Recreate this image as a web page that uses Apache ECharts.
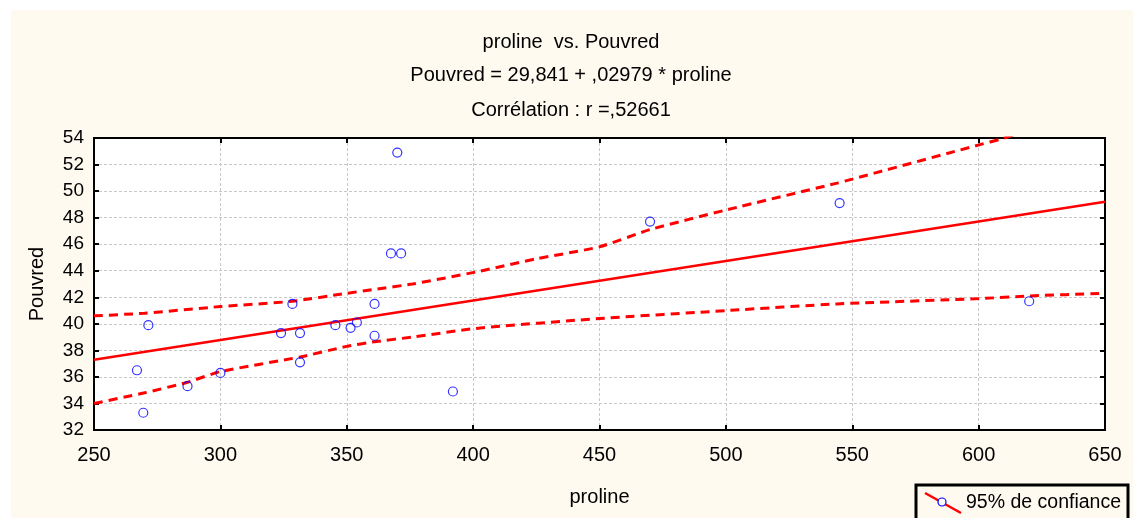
<!DOCTYPE html>
<html>
<head>
<meta charset="utf-8">
<script src="https://cdn.jsdelivr.net/npm/echarts@6/dist/echarts.min.js"></script>
<style>
html,body{margin:0;padding:0;background:#ffffff;}
#bg{position:absolute;left:11px;top:10px;width:1122px;height:508px;background:#fffaf0;}
#chart{position:absolute;left:0;top:0;width:1133px;height:518px;}
</style>
</head>
<body>
<div id="bg"></div>
<div id="chart"></div>
<script>
// ---- data ----
const titleLines = ["proline  vs. Pouvred", "Pouvred = 29,841 + ,02979 * proline", "Corrélation : r =,52661"];
const xName = "proline";
const yName = "Pouvred";
const legendText = "95% de confiance";

const prolineVals = [267, 269.5, 271.5, 287, 300, 324, 328.5, 331.5, 331.5, 345.5, 351.5, 354, 361, 361, 367.5, 371.5, 370, 392, 470, 545, 620];
const pouvredVals = [36.5, 33.3, 39.9, 35.3, 36.3, 39.3, 41.5, 39.3, 37.1, 39.9, 39.7, 40.1, 41.5, 39.1, 45.3, 45.3, 52.9, 34.9, 47.7, 49.1, 41.7];

const fitX = [250, 650];
const fitY = [37.3, 49.2];

const upperX = [250, 270, 300, 328.5, 350, 361, 376, 401, 425, 450, 470, 500.6, 544, 550, 600.5, 608.5, 615];
const upperY = [40.6, 40.8, 41.3, 41.7, 42.3, 42.6, 43.0, 43.9, 44.9, 45.8, 47.1, 48.6, 50.6, 50.9, 53.5, 53.9, 54.3];

const lowerX = [250, 270, 287, 300, 331.5, 350, 361, 376, 401, 450, 500.6, 544, 600.5, 620, 650];
const lowerY = [34.0, 34.8, 35.6, 36.4, 37.5, 38.3, 38.65, 39.0, 39.65, 40.4, 41.0, 41.5, 41.9, 42.1, 42.3];

const xMin = 250, xMax = 650, xStep = 50;
const yMin = 32, yMax = 54, yStep = 2;

// ---- build chart ----
const zip = (a, b) => a.map((v, i) => [v, b[i]]);
const FONT = '"Liberation Sans", Arial, sans-serif';

const chart = echarts.init(document.getElementById('chart'), null, {renderer: 'canvas'});

const gridLine = {show: true, lineStyle: {color: '#c8c8c8', type: [3, 2], width: 1}};
const tickIn = {show: true, inside: true, length: 5, lineStyle: {color: '#000', width: 2}};
const axisLn = {show: true, lineStyle: {color: '#000', width: 2}};

const option = {
  backgroundColor: 'transparent',
  animation: false,
  grid: {left: 94, right: 28, top: 138, bottom: 88, show: true, backgroundColor: '#ffffff', borderColor: '#000', borderWidth: 2},
  xAxis: [
    {type: 'value', min: xMin, max: xMax, interval: xStep, position: 'bottom',
     name: xName, nameLocation: 'middle', nameGap: 57,
     nameTextStyle: {fontFamily: FONT, fontSize: 20, color: '#000'},
     axisLine: axisLn, axisTick: tickIn, splitLine: gridLine,
     axisLabel: {fontFamily: FONT, fontSize: 20, color: '#000', margin: 15}},
    {type: 'value', min: xMin, max: xMax, interval: xStep, position: 'top',
     axisLine: axisLn, axisTick: tickIn, splitLine: {show: false}, axisLabel: {show: false}}
  ],
  yAxis: [
    {type: 'value', min: yMin, max: yMax, interval: yStep, position: 'left',
     name: yName, nameLocation: 'middle', nameGap: 47,
     nameTextStyle: {fontFamily: FONT, fontSize: 20, color: '#000'},
     axisLine: axisLn, axisTick: tickIn, splitLine: gridLine,
     axisLabel: {fontFamily: FONT, fontSize: 19, color: '#000', margin: 10}},
    {type: 'value', min: yMin, max: yMax, interval: yStep, position: 'right',
     axisLine: axisLn, axisTick: tickIn, splitLine: {show: false}, axisLabel: {show: false}}
  ],
  series: [
    {type: 'line', name: 'fit', data: zip(fitX, fitY), symbol: 'none', clip: true,
     lineStyle: {color: '#ff0000', width: 2.5}, z: 3},
    {type: 'line', name: 'upper', data: zip(upperX, upperY), symbol: 'none', clip: true, smooth: 0.2,
     lineStyle: {color: '#ff0000', width: 3, type: [9, 6]}, z: 3},
    {type: 'line', name: 'lower', data: zip(lowerX, lowerY), symbol: 'none', clip: true, smooth: 0.2,
     lineStyle: {color: '#ff0000', width: 3, type: [9, 6]}, z: 3},
    {type: 'scatter', name: 'points', data: zip(prolineVals, pouvredVals), symbol: 'circle', symbolSize: 9,
     itemStyle: {color: 'rgba(0,0,0,0)', borderColor: '#0000ff', borderWidth: 1.2}, z: 5}
  ],
  graphic: [
    {type: 'text', x: 571, y: 42, style: {text: titleLines[0], font: '20px ' + FONT, fill: '#000', align: 'center', verticalAlign: 'middle'}},
    {type: 'text', x: 571, y: 75, style: {text: titleLines[1], font: '20px ' + FONT, fill: '#000', align: 'center', verticalAlign: 'middle'}},
    {type: 'text', x: 571, y: 110, style: {text: titleLines[2], font: '20px ' + FONT, fill: '#000', align: 'center', verticalAlign: 'middle'}},
    {type: 'rect', shape: {x: 916, y: 485, width: 212, height: 40}, style: {fill: '#fffaf0', stroke: '#000', lineWidth: 3}},
    {type: 'line', shape: {x1: 925, y1: 493, x2: 961, y2: 513}, style: {stroke: '#ff0000', lineWidth: 2.5}},
    {type: 'circle', shape: {cx: 942, cy: 502, r: 4}, style: {fill: '#ffffff', stroke: '#0000ff', lineWidth: 1.2}},
    {type: 'text', x: 966, y: 503, style: {text: legendText, font: '19.5px ' + FONT, fill: '#000', align: 'left', verticalAlign: 'middle'}}
  ]
};
chart.setOption(option);
</script>
</body>
</html>
